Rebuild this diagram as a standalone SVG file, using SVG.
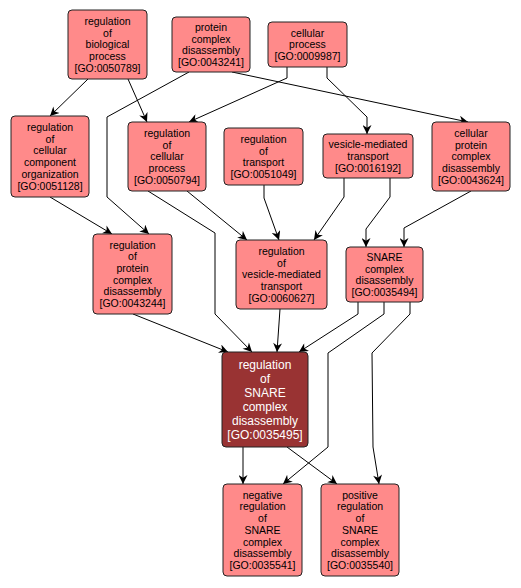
<svg xmlns="http://www.w3.org/2000/svg" width="521" height="588" viewBox="0 0 521 588">
<style>
.n rect{fill:#FF8A8A;stroke:#222;stroke-width:1}
.n text{font-family:"Liberation Sans",Arial,sans-serif;font-size:10.5px;fill:#000;text-anchor:middle}
.d rect{fill:#993333;stroke:#222;stroke-width:1}
.d text{font-family:"Liberation Sans",Arial,sans-serif;font-size:12px;fill:#fff;text-anchor:middle}
.e path{fill:none;stroke:#000;stroke-width:1;marker-end:url(#arr)}
</style>
<defs>
<marker id="arr" viewBox="0 0 10 10" refX="10" refY="5" markerWidth="10" markerHeight="9" markerUnits="userSpaceOnUse" orient="auto">
<path d="M0,0 L10,5 L0,10 L3,5 z" fill="#000"/>
</marker>
</defs>
<rect width="521" height="588" fill="#fff"/>
<g id="edges" class="e">
<path d="M88,79 L50,116"/>
<path d="M128,79 L147,122"/>
<path d="M189,72 L107,117 L107,197 L149,234"/>
<path d="M232,72 L468,122"/>
<path d="M287,67 L287,78 L189,122"/>
<path d="M327,67 L327,78 L367,117 L367,134"/>
<path d="M50,197 L112,234"/>
<path d="M148,191 L215,233 L215,314 L252,352"/>
<path d="M187,191 L247,240"/>
<path d="M264,185 L264,198 L279,240"/>
<path d="M344,178 L344,197 L314,240"/>
<path d="M390,178 L390,197 L366,229 L366,247"/>
<path d="M471,191 L404,228 L404,247"/>
<path d="M133,314 L228,352"/>
<path d="M280,309 L277,352"/>
<path d="M358,302 L358,314 L299,352"/>
<path d="M384,302 L384,314 L328,353 L328,447 L283,484"/>
<path d="M410,302 L410,314 L372,353 L373,447 L379,484"/>
<path d="M243,447 L243,484"/>
<path d="M287,447 L337,484"/>
</g>
<g id="n0050789" class="n"><rect x="68" y="10" width="79" height="69" rx="4"/>
<text><tspan x="107.5" y="24.9">regulation</tspan><tspan x="107.5" dy="11.7">of</tspan><tspan x="107.5" dy="11.7">biological</tspan><tspan x="107.5" dy="11.7">process</tspan><tspan x="107.5" dy="11.7">[GO:0050789]</tspan></text></g>
<g id="n0043241" class="n"><rect x="172" y="17" width="78" height="55" rx="4"/>
<text><tspan x="211" y="30.8">protein</tspan><tspan x="211" dy="11.7">complex</tspan><tspan x="211" dy="11.7">disassembly</tspan><tspan x="211" dy="11.7">[GO:0043241]</tspan></text></g>
<g id="n0009987" class="n"><rect x="268" y="22" width="79" height="45" rx="4"/>
<text><tspan x="307.5" y="36.6">cellular</tspan><tspan x="307.5" dy="11.7">process</tspan><tspan x="307.5" dy="11.7">[GO:0009987]</tspan></text></g>
<g id="n0051128" class="n"><rect x="11" y="116" width="78" height="81" rx="4"/>
<text><tspan x="50" y="131">regulation</tspan><tspan x="50" dy="11.7">of</tspan><tspan x="50" dy="11.7">cellular</tspan><tspan x="50" dy="11.7">component</tspan><tspan x="50" dy="11.7">organization</tspan><tspan x="50" dy="11.7">[GO:0051128]</tspan></text></g>
<g id="n0050794" class="n"><rect x="128" y="122" width="78" height="69" rx="4"/>
<text><tspan x="167" y="136.9">regulation</tspan><tspan x="167" dy="11.7">of</tspan><tspan x="167" dy="11.7">cellular</tspan><tspan x="167" dy="11.7">process</tspan><tspan x="167" dy="11.7">[GO:0050794]</tspan></text></g>
<g id="n0051049" class="n"><rect x="224" y="128" width="79" height="57" rx="4"/>
<text><tspan x="263.5" y="142.8">regulation</tspan><tspan x="263.5" dy="11.7">of</tspan><tspan x="263.5" dy="11.7">transport</tspan><tspan x="263.5" dy="11.7">[GO:0051049]</tspan></text></g>
<g id="n0016192" class="n"><rect x="323" y="134" width="90" height="44" rx="4"/>
<text><tspan x="368" y="148.1">vesicle-mediated</tspan><tspan x="368" dy="11.7">transport</tspan><tspan x="368" dy="11.7">[GO:0016192]</tspan></text></g>
<g id="n0043624" class="n"><rect x="432" y="122" width="78" height="69" rx="4"/>
<text><tspan x="471" y="136.9">cellular</tspan><tspan x="471" dy="11.7">protein</tspan><tspan x="471" dy="11.7">complex</tspan><tspan x="471" dy="11.7">disassembly</tspan><tspan x="471" dy="11.7">[GO:0043624]</tspan></text></g>
<g id="n0043244" class="n"><rect x="93" y="234" width="79" height="80" rx="4"/>
<text><tspan x="132.5" y="248.5">regulation</tspan><tspan x="132.5" dy="11.7">of</tspan><tspan x="132.5" dy="11.7">protein</tspan><tspan x="132.5" dy="11.7">complex</tspan><tspan x="132.5" dy="11.7">disassembly</tspan><tspan x="132.5" dy="11.7">[GO:0043244]</tspan></text></g>
<g id="n0060627" class="n"><rect x="236" y="240" width="91" height="69" rx="4"/>
<text><tspan x="281.5" y="254.9">regulation</tspan><tspan x="281.5" dy="11.7">of</tspan><tspan x="281.5" dy="11.7">vesicle-mediated</tspan><tspan x="281.5" dy="11.7">transport</tspan><tspan x="281.5" dy="11.7">[GO:0060627]</tspan></text></g>
<g id="n0035494" class="n"><rect x="346" y="247" width="77" height="55" rx="4"/>
<text><tspan x="384.5" y="260.8">SNARE</tspan><tspan x="384.5" dy="11.7">complex</tspan><tspan x="384.5" dy="11.7">disassembly</tspan><tspan x="384.5" dy="11.7">[GO:0035494]</tspan></text></g>
<g id="n0035495" class="d"><rect x="222" y="352" width="86" height="95" rx="4"/>
<text><tspan x="265" y="368.8">regulation</tspan><tspan x="265" dy="14">of</tspan><tspan x="265" dy="14">SNARE</tspan><tspan x="265" dy="14">complex</tspan><tspan x="265" dy="14">disassembly</tspan><tspan x="265" dy="14">[GO:0035495]</tspan></text></g>
<g id="n0035541" class="n"><rect x="223" y="484" width="79" height="92" rx="4"/>
<text><tspan x="262.5" y="498.7">negative</tspan><tspan x="262.5" dy="11.7">regulation</tspan><tspan x="262.5" dy="11.7">of</tspan><tspan x="262.5" dy="11.7">SNARE</tspan><tspan x="262.5" dy="11.7">complex</tspan><tspan x="262.5" dy="11.7">disassembly</tspan><tspan x="262.5" dy="11.7">[GO:0035541]</tspan></text></g>
<g id="n0035540" class="n"><rect x="321" y="484" width="78" height="92" rx="4"/>
<text><tspan x="360" y="498.7">positive</tspan><tspan x="360" dy="11.7">regulation</tspan><tspan x="360" dy="11.7">of</tspan><tspan x="360" dy="11.7">SNARE</tspan><tspan x="360" dy="11.7">complex</tspan><tspan x="360" dy="11.7">disassembly</tspan><tspan x="360" dy="11.7">[GO:0035540]</tspan></text></g>
</svg>
